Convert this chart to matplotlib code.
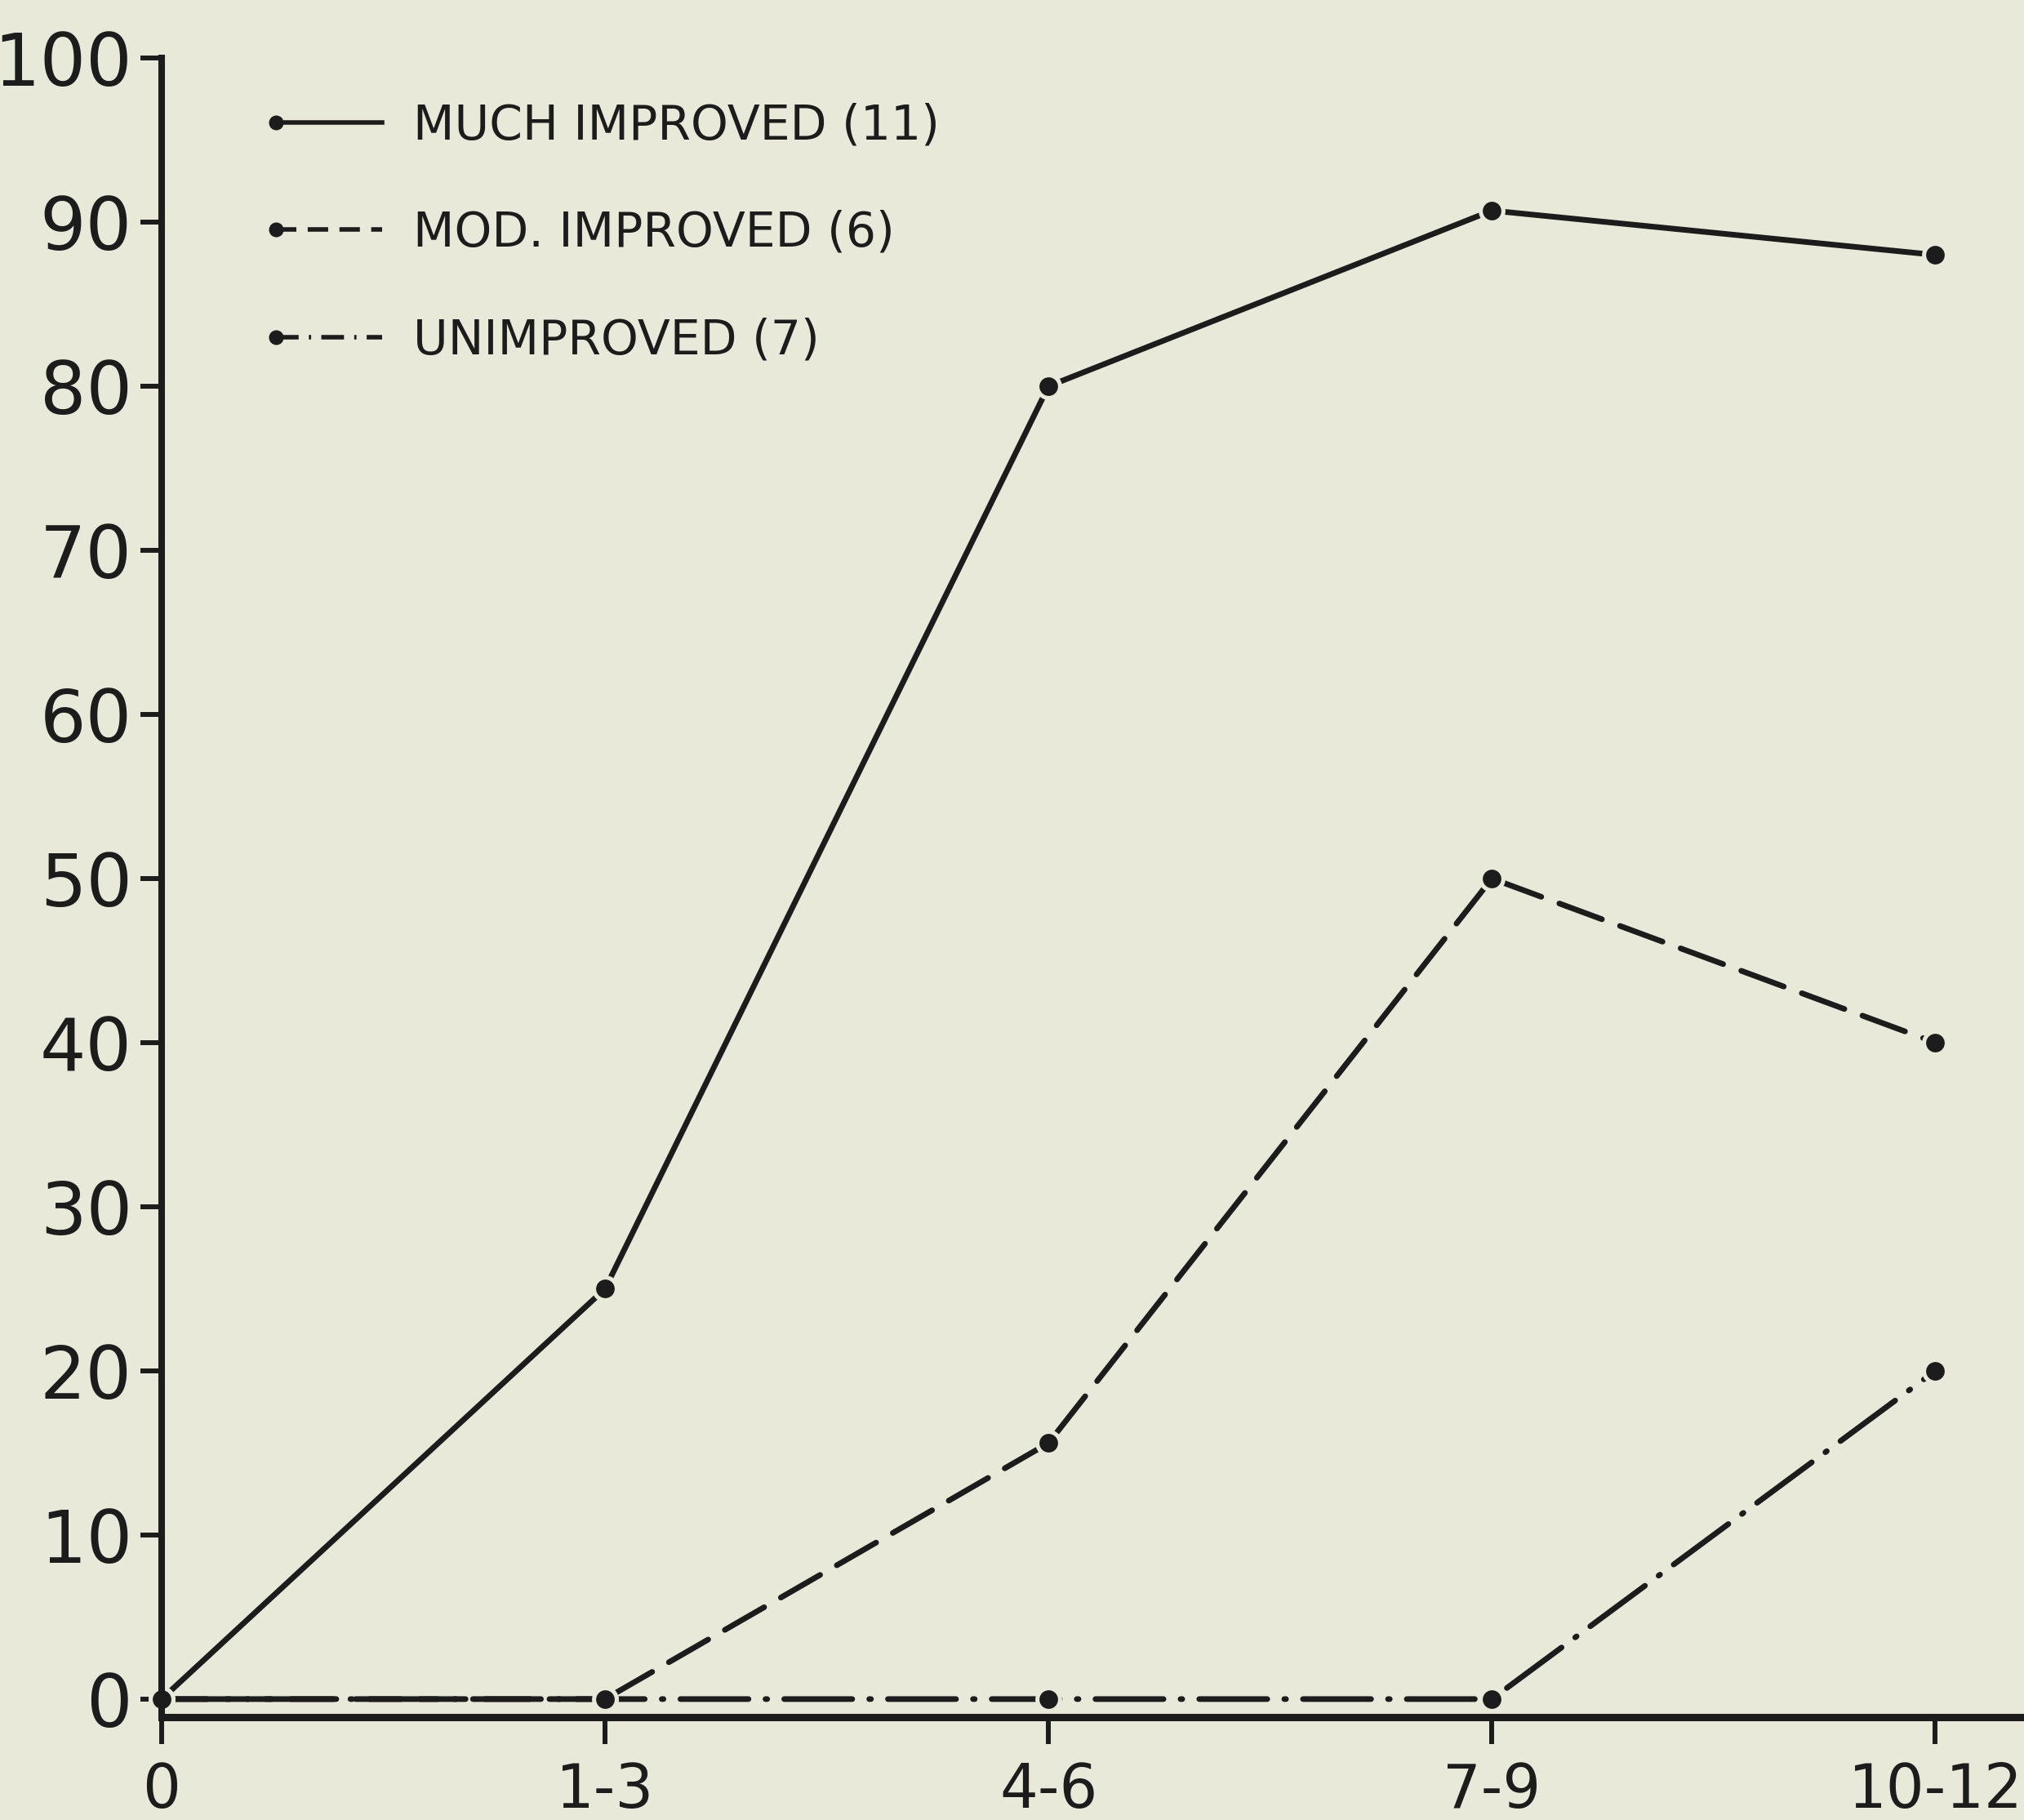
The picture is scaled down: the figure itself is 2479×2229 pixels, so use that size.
import matplotlib
matplotlib.use("Agg")
import matplotlib.pyplot as plt
from matplotlib.lines import Line2D
from matplotlib.legend_handler import HandlerLine2D

# ---- data ----
categories = ["0", "1-3", "4-6", "7-9", "10-12"]
much_improved = [0, 25, 80, 90.7, 88]
mod_improved = [0, 0, 15.6, 50, 40]
unimproved = [0, 0, 0, 0, 20]
series_labels = ["MUCH IMPROVED (11)", "MOD. IMPROVED (6)", "UNIMPROVED (7)"]
y_ticks = list(range(0, 101, 10))

# ---- style ----
plt.rcParams["font.family"] = ["DejaVu Sans"]
plt.rcParams["lines.scale_dashes"] = False
bg = "#e9e9da"
ink = "#1c1c1c"
lw = 5.0

fig = plt.figure(figsize=(24.79, 22.29), dpi=100)
fig.patch.set_facecolor(bg)
W, H = 2479, 2229
ax = fig.add_axes([198 / W, (H - 2103) / H, 1 - 198 / W, (2103 - 71) / H])
ax.set_facecolor(bg)

x = list(range(len(categories)))
common = dict(color=ink, lw=lw, marker="o", ms=20, mfc=ink, mec=bg, mew=3.6,
              clip_on=False, solid_capstyle="round", dash_capstyle="round")
ax.plot(x, unimproved, ls=(0, (60, 15, 1.5, 15)), zorder=3, **common)
ax.plot(x, mod_improved, ls=(0, (40, 17)), zorder=3.1, **common)
ax.plot(x, much_improved, ls="-", zorder=3.2, **common)

ax.set_xlim(0, 4.2)
ax.set_ylim(-1.1, 100)
ax.set_xticks(x)
ax.set_xticklabels(categories)
ax.set_yticks(y_ticks)
ax.set_yticklabels([str(v) for v in y_ticks])

for s in ["top", "right"]:
    ax.spines[s].set_visible(False)
ax.spines["left"].set_linewidth(5.8)
ax.spines["bottom"].set_linewidth(6.5)
ax.spines["left"].set_color(ink)
ax.spines["bottom"].set_color(ink)
ax.spines["left"].set_zorder(4)
ax.spines["bottom"].set_zorder(4)

ax.tick_params(axis="y", direction="out", length=19, width=4.3, pad=7,
               labelsize=64, colors=ink)
ax.tick_params(axis="x", direction="out", length=24, width=4.3, pad=15,
               labelsize=53, colors=ink)


class LeftMarkerHandler(HandlerLine2D):
    def create_artists(self, legend, orig_handle, xdescent, ydescent, width,
                       height, fontsize, trans):
        artists = super().create_artists(legend, orig_handle, xdescent, ydescent,
                                         width, height, fontsize, trans)
        for a in artists:
            a.set_markevery([0])
        return artists


# ---- legend ----
hkw = dict(color=ink, lw=4.0, marker="o", ms=12, mec=ink)
handles = [
    Line2D([], [], ls="-", **hkw),
    Line2D([], [], ls=(0, (18, 10)), **hkw),
    Line2D([], [], ls=(0, (20, 9, 2, 9)), **hkw),
]
leg = ax.legend(handles, series_labels, loc="upper left",
                bbox_to_anchor=(320 / W, 1 - 125 / H), bbox_transform=fig.transFigure,
                frameon=False, fontsize=42, numpoints=2, handlelength=2.83,
                handletextpad=0.35, labelspacing=1.28, borderpad=0, borderaxespad=0,
                handler_map={Line2D: LeftMarkerHandler()})
for t in leg.get_texts():
    t.set_color(ink)

fig.savefig("out.png", dpi=100, facecolor=bg)
